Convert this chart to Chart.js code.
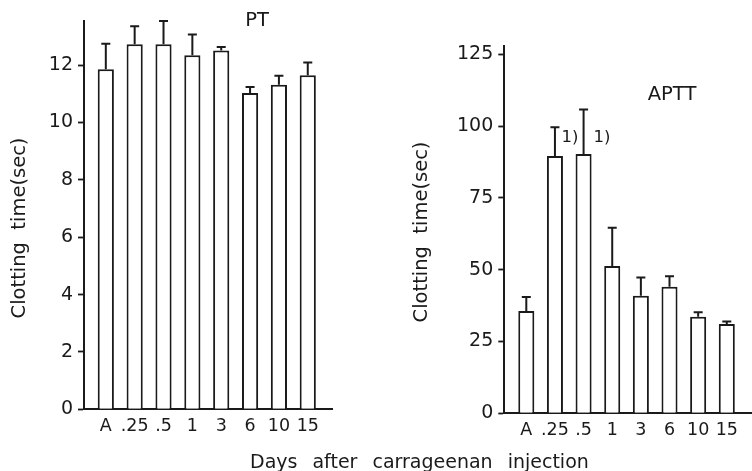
<!DOCTYPE html>
<html><head><meta charset="utf-8">
<script src="https://cdn.jsdelivr.net/npm/chart.js@4"></script>
<style>
html,body{margin:0;padding:0;background:#fff;}
#wrap{position:relative;width:752px;height:471px;overflow:hidden;background:#fff;}
.pane{position:absolute;top:0;width:376px;height:471px;}
#xlabel{position:absolute;left:250px;top:449px;font:19px "DejaVu Sans",Verdana,sans-serif;word-spacing:9px;white-space:nowrap;color:#1a1a1a;line-height:24px;}
</style></head><body>
<div id="wrap">
<div class="pane" style="left:0"><canvas id="c1" width="376" height="471"></canvas></div>
<div class="pane" style="left:376px"><canvas id="c2" width="376" height="471"></canvas></div>
<div id="xlabel">Days after carrageenan injection</div>
</div>
<script>
// ---- data ----
const categories = ['A', '.25', '.5', '1', '3', '6', '10', '15'];
const ptMeans   = [11.86, 12.73, 12.73, 12.35, 12.51, 11.03, 11.32, 11.65];
const ptErrors  = [0.89, 0.63, 0.81, 0.72, 0.12, 0.21, 0.31, 0.44];
const ptTicks   = [0, 2, 4, 6, 8, 10, 12];
const apttMeans  = [35.6, 89.6, 90.3, 51.3, 40.9, 44.1, 33.6, 31.1];
const apttErrors = [4.9, 10.0, 15.5, 13.3, 6.4, 3.6, 1.6, 0.9];
const apttTicks  = [0, 25, 50, 75, 100, 125];
const apttNotes  = [null, '1)', '1)', null, null, null, null, null];
const yTitle = 'Clotting  time(sec)';

const INK = '#1a1a1a';
const FONT = '"DejaVu Sans", Verdana, sans-serif';

function makeExtras(p) {
  return {
    id: 'extras',
    afterDatasetsDraw(chart) {
      const ctx = chart.ctx, xs = chart.scales.x, ys = chart.scales.y;
      ctx.save();
      ctx.strokeStyle = INK; ctx.lineWidth = 2; ctx.lineCap = 'butt';
      p.means.forEach((m, i) => {
        const px = xs.getPixelForValue(i);
        const y0 = ys.getPixelForValue(m);
        const y1 = ys.getPixelForValue(m + p.errors[i]);
        ctx.beginPath();
        ctx.moveTo(px, y0); ctx.lineTo(px, y1);
        ctx.moveTo(px - p.cap / 2, y1); ctx.lineTo(px + p.cap / 2, y1);
        ctx.stroke();
      });
      ctx.fillStyle = INK;
      ctx.textAlign = 'center'; ctx.textBaseline = 'middle';
      if (p.notes) {
        ctx.font = '16.5px ' + FONT;
        p.notes.forEach((n, i) => {
          if (!n) return;
          ctx.fillText(n, xs.getPixelForValue(i) + p.noteDx[i], ys.getPixelForValue(p.noteY));
        });
      }
      ctx.font = '19.5px ' + FONT;
      ctx.fillText(p.title, p.titleX, p.titleY);
      ctx.translate(p.yTitleX, p.yTitleY);
      ctx.rotate(-Math.PI / 2);
      ctx.font = '19.5px ' + FONT;
      ctx.fillText(yTitle, 0, 0);
      ctx.restore();
    }
  };
}

function makeChart(id, p) {
  return new Chart(document.getElementById(id), {
    type: 'bar',
    data: {
      datasets: [{
        data: p.means.map((v, i) => ({ x: i, y: v })),
        backgroundColor: '#ffffff',
        borderColor: INK,
        borderWidth: 2,
        categoryPercentage: 1,
        barPercentage: 0.56
      }]
    },
    options: {
      responsive: false,
      animation: false,
      devicePixelRatio: 1,
      layout: { padding: { top: p.top, right: p.right, left: 0, bottom: 0 } },
      plugins: { legend: { display: false }, tooltip: { enabled: false } },
      scales: {
        x: {
          type: 'linear', min: p.xMin, max: p.xMax, offset: false,
          grid: { display: true, drawOnChartArea: false, drawTicks: false, offset: false },
          border: { display: true, color: INK, width: 2 },
          ticks: {
            stepSize: 1, autoSkip: false, maxRotation: 0, padding: 7,
            color: INK, font: { family: FONT, size: 17.5 },
            callback: (v) => categories[v]
          },
          afterBuildTicks: (s) => { s.ticks = categories.map((c, i) => ({ value: i })); },
          afterFit: (s) => { s.height = p.bottomH; }
        },
        y: {
          min: 0, max: p.yMax,
          grid: { display: true, drawOnChartArea: false, drawTicks: true, tickLength: 6, tickColor: INK, tickWidth: 1.8 },
          border: { display: true, color: INK, width: 2 },
          ticks: { color: INK, padding: 5, font: { family: FONT, size: 19 } },
          afterBuildTicks: (s) => { s.ticks = p.yTicks.map(v => ({ value: v })); },
          afterFit: (s) => { s.width = p.leftW; }
        }
      }
    },
    plugins: [makeExtras(p)]
  });
}

makeChart('c1', {
  means: ptMeans, errors: ptErrors, yTicks: ptTicks, yMax: 13.54,
  top: 21, right: 44, leftW: 84, bottomH: 61.7,
  xMin: -0.756, xMax: 7.84, cap: 9,
  title: 'PT', titleX: 257, titleY: 21,
  yTitleX: 20, yTitleY: 228
});
makeChart('c2', {
  means: apttMeans, errors: apttErrors, yTicks: apttTicks, yMax: 128,
  top: 45.7, right: 0, leftW: 128.3, bottomH: 57.7,
  xMin: -0.768, xMax: 7.88, cap: 9,
  notes: apttNotes, noteDx: [0, 15, 18.5, 0, 0, 0, 0, 0], noteY: 96,
  title: 'APTT', titleX: 296, titleY: 95,
  yTitleX: 46, yTitleY: 232
});
</script>
</body></html>
